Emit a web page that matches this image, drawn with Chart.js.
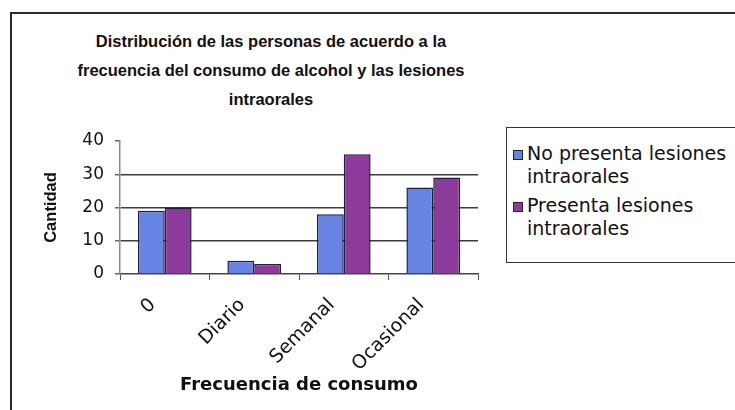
<!DOCTYPE html>
<html lang="es">
<head>
<meta charset="utf-8">
<title>Frecuencia de consumo de alcohol</title>
<script src="https://cdn.jsdelivr.net/npm/chart.js@4.4.0/dist/chart.umd.min.js"></script>
<style>
  html, body {
    margin: 0;
    padding: 0;
    width: 735px;
    height: 410px;
    overflow: hidden;
    background: #fff;
  }
  .marco {
    position: absolute;
    left: 10px;
    top: 12px;
    width: 760px;
    height: 420px;
    border-left: 2px solid #2b2b2b;
    border-top: 2px solid #2b2b2b;
  }
  .titulo {
    position: absolute;
    left: 0;
    top: 27px;
    width: 542px;
    text-align: center;
    font: bold 16.5px "Liberation Sans", Arial, sans-serif;
    line-height: 29px;
    color: #111;
  }
  .grafico {
    position: absolute;
    left: 12px;
    top: 14px;
    width: 488px;
    height: 396px;
  }
  .leyenda {
    position: absolute;
    left: 506px;
    top: 127px;
    width: 250px;
    height: 134px;
    border: 1.5px solid #333;
    background: #fff;
    font: 19px "DejaVu Sans", Verdana, sans-serif;
    color: #111;
  }
  .item {
    position: absolute;
    left: 20px;
    line-height: 23px;
  }
  .cuadro {
    position: absolute;
    left: -14px;
    top: 8px;
    width: 8px;
    height: 8px;
    border: 1px solid #222;
  }
</style>
</head>
<body>
<div class="marco"></div>
<div class="titulo">Distribución de las personas de acuerdo a la<br>frecuencia del consumo de alcohol y las lesiones<br>intraorales</div>
<div class="grafico"><canvas id="consumoChart" width="488" height="396"></canvas></div>
<div class="leyenda" id="leyenda"></div>
<script>
// Datos
const categorias = ["0", "Diario", "Semanal", "Ocasional"];
const noPresentaLesiones = [19, 4, 18, 26];
const presentaLesiones = [20, 3, 36, 29];
const nombresSeries = [
  ["No presenta lesiones", "intraorales"],
  ["Presenta lesiones", "intraorales"],
];
const ticksCantidad = [0, 10, 20, 30, 40];

const COLORES = {
  azul: "#6784e4",
  morado: "#8d3b9b",
  borde: "#1d1d3c",
  grilla: "#3d3d3d",
};

const FUENTE = '"DejaVu Sans", Verdana, sans-serif';
const FUENTE_TITULO = '"Liberation Sans", Arial, sans-serif';

function crearLeyenda() {
  const cont = document.getElementById("leyenda");
  const colores = [COLORES.azul, COLORES.morado];
  const tops = [14, 66];
  let html = "";
  nombresSeries.forEach((lineas, i) => {
    html += `
      <div class="item" style="top:${tops[i]}px">
        <span class="cuadro" style="background-color:${colores[i]}"></span>
        ${lineas.join("<br>")}
      </div>`;
  });
  cont.innerHTML = html;
}

function crearGrafico() {
  const ctx = document.getElementById("consumoChart").getContext("2d");
  new Chart(ctx, {
    type: "bar",
    data: {
      labels: categorias,
      datasets: [
        {
          label: nombresSeries[0].join(" "),
          data: noPresentaLesiones,
          backgroundColor: COLORES.azul,
          borderColor: COLORES.borde,
          borderWidth: 1.5,
        },
        {
          label: nombresSeries[1].join(" "),
          data: presentaLesiones,
          backgroundColor: COLORES.morado,
          borderColor: COLORES.borde,
          borderWidth: 1.5,
        },
      ],
    },
    options: {
      responsive: false,
      animation: false,
      layout: {
        padding: { left: 20, right: 22, top: 127, bottom: 0 },
      },
      datasets: {
        bar: {
          categoryPercentage: 0.6,
          barPercentage: 1.0,
        },
      },
      plugins: {
        legend: { display: false },
        title: { display: false },
        tooltip: { enabled: false },
      },
      scales: {
        x: {
          afterFit: (scale) => {
            scale.height = 136;
          },
          grid: {
            drawOnChartArea: false,
            drawTicks: true,
            tickLength: 6,
            tickColor: "#555",
            offset: true,
          },
          border: { color: "#444", width: 1.5 },
          ticks: {
            minRotation: 45,
            maxRotation: 45,
            padding: 14,
            labelOffset: -12,
            color: "#111",
            font: { family: FUENTE, size: 19 },
          },
          title: {
            display: true,
            text: "Frecuencia de consumo",
            color: "#111",
            font: { family: FUENTE, size: 18, weight: "bold" },
            padding: { top: 14, bottom: 14 },
          },
        },
        y: {
          min: ticksCantidad[0],
          max: ticksCantidad[ticksCantidad.length - 1],
          afterFit: (scale) => {
            scale.width = 88;
          },
          afterBuildTicks: (scale) => {
            scale.ticks = ticksCantidad.map((v) => ({ value: v }));
          },
          grid: {
            color: (c) =>
              c.tick && (c.tick.value === 40 || c.tick.value === 0)
                ? "rgba(0,0,0,0)"
                : COLORES.grilla,
            lineWidth: 1.5,
            tickLength: 5,
            tickColor: "#666",
          },
          border: { color: "#8a8a8a", width: 1.5 },
          ticks: {
            padding: 11,
            color: "#111",
            font: { family: FUENTE, size: 17 },
          },
          title: {
            display: true,
            text: "Cantidad",
            color: "#111",
            font: { family: FUENTE_TITULO, size: 16.5, weight: "bold" },
            padding: { top: 10, bottom: 4 },
          },
        },
      },
    },
  });
}

crearLeyenda();
crearGrafico();
</script>
</body>
</html>
